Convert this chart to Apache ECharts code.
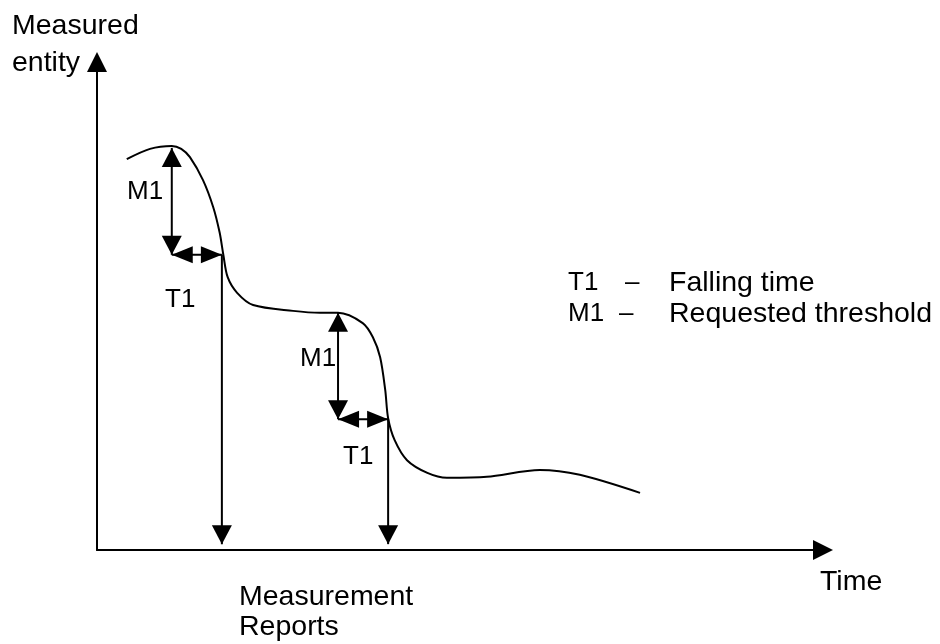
<!DOCTYPE html>
<html>
<head>
<meta charset="utf-8">
<script src="https://cdn.jsdelivr.net/npm/echarts@6/dist/echarts.min.js"></script>
<style>
html,body{margin:0;padding:0;background:#fff;}
#chart{width:940px;height:644px;}
</style>
</head>
<body>
<div id="chart"></div>
<script>
// Measured entity over time (x: time 0..100, y: measured entity 0..100)
const curveTime = [4.1, 7.3, 10.3, 11.6, 12.8, 14.6, 16.0, 16.9, 17.4, 18.0, 19.3, 21.5, 27.0, 30.7, 33.2, 36.6, 38.0, 39.0, 39.7, 40.1, 41.0, 42.7, 45.5, 48.2, 53.7, 61.0, 66.5, 74.8];
const curveValue = [80.1, 82.2, 82.8, 82.2, 80.5, 75.8, 70.3, 65.0, 60.5, 55.9, 52.7, 50.2, 49.0, 48.6, 48.6, 46.5, 43.6, 39.5, 32.8, 27.0, 22.5, 18.4, 15.8, 14.8, 15.0, 16.4, 15.4, 11.7];

// Annotation arrows: [x1, y1, x2, y2, bothEnds]
const m1Arrows = [[10.3, 82.4, 10.3, 60.5, 1], [33.2, 48.6, 33.2, 26.8, 1]];
const t1Arrows = [[10.3, 60.5, 17.2, 60.5, 1], [33.2, 26.8, 40.1, 26.8, 1]];
const reportArrows = [[17.2, 60.5, 17.2, 1.2, 0], [40.1, 26.8, 40.1, 1.2, 0]];

const axisMin = 0, axisMax = 100;

const FONT = '"Liberation Sans", Arial, sans-serif';
const FS_WORD = 28.5;
const FS_CODE = 26;

function arrowSeries(data, headW, headL) {
  return {
    type: 'custom',
    data: data,
    encode: { x: [0, 2], y: [1, 3] },
    silent: true,
    renderItem: function (params, api) {
      const p1 = api.coord([api.value(0), api.value(1)]);
      const p2 = api.coord([api.value(2), api.value(3)]);
      const both = api.value(4) === 1;
      const dx = p2[0] - p1[0], dy = p2[1] - p1[1];
      const len = Math.sqrt(dx * dx + dy * dy) || 1;
      const ux = dx / len, uy = dy / len;
      const nx = -uy, ny = ux;
      function head(tip, dirx, diry) {
        const bx = tip[0] - dirx * headL, by = tip[1] - diry * headL;
        return {
          type: 'polygon',
          shape: { points: [tip, [bx + nx * headW / 2, by + ny * headW / 2], [bx - nx * headW / 2, by - ny * headW / 2]] },
          style: { fill: '#000', stroke: null }
        };
      }
      const children = [{
        type: 'line',
        shape: { x1: p1[0], y1: p1[1], x2: p2[0], y2: p2[1] },
        style: { stroke: '#000', lineWidth: 2 }
      }, head(p2, ux, uy)];
      if (both) children.push(head(p1, -ux, -uy));
      return { type: 'group', children: children };
    },
    z: 5
  };
}

function txt(text, x, y, fs) {
  return {
    type: 'text', x: x, y: y, silent: true,
    style: {
      text: text, fill: '#000', fontSize: fs || FS_WORD, fontFamily: FONT,
      align: 'left', verticalAlign: 'middle', textAlign: 'left', textVerticalAlign: 'middle'
    }
  };
}

const chart = echarts.init(document.getElementById('chart'), null, { renderer: 'canvas' });
chart.setOption({
  animation: false,
  backgroundColor: '#fff',
  grid: { left: 97, right: 117, top: 62, bottom: 94, containLabel: false },
  xAxis: {
    type: 'value', min: axisMin, max: axisMax,
    axisLine: { show: true, onZero: true, symbol: ['none', 'triangle'], symbolSize: [20, 20], lineStyle: { color: '#000', width: 2 } },
    axisTick: { show: false }, axisLabel: { show: false }, splitLine: { show: false }
  },
  yAxis: {
    type: 'value', min: axisMin, max: axisMax,
    axisLine: { show: true, onZero: true, symbol: ['none', 'triangle'], symbolSize: [20, 20], lineStyle: { color: '#000', width: 2 } },
    axisTick: { show: false }, axisLabel: { show: false }, splitLine: { show: false }
  },
  series: [
    {
      type: 'line',
      data: curveTime.map((t, i) => [t, curveValue[i]]),
      smooth: 0.3,
      showSymbol: false,
      lineStyle: { color: '#000', width: 2 },
      silent: true,
      z: 4
    },
    arrowSeries(m1Arrows, 20, 19),
    arrowSeries(t1Arrows, 17, 21),
    arrowSeries(reportArrows, 20, 19)
  ],
  graphic: [
    txt('Measured', 12, 26),
    txt('entity', 12, 63),
    txt('M1', 127, 192, FS_CODE),
    txt('T1', 165, 300, FS_CODE),
    txt('M1', 300, 359, FS_CODE),
    txt('T1', 343, 457, FS_CODE),
    txt('T1', 568, 283, FS_CODE),
    txt('–', 625, 283, FS_CODE),
    txt('Falling time', 669, 283),
    txt('M1', 568, 314, FS_CODE),
    txt('–', 619, 314, FS_CODE),
    txt('Requested threshold', 669, 314),
    txt('Time', 820, 582),
    txt('Measurement', 239, 597),
    txt('Reports', 239, 627)
  ]
});
</script>
</body>
</html>
